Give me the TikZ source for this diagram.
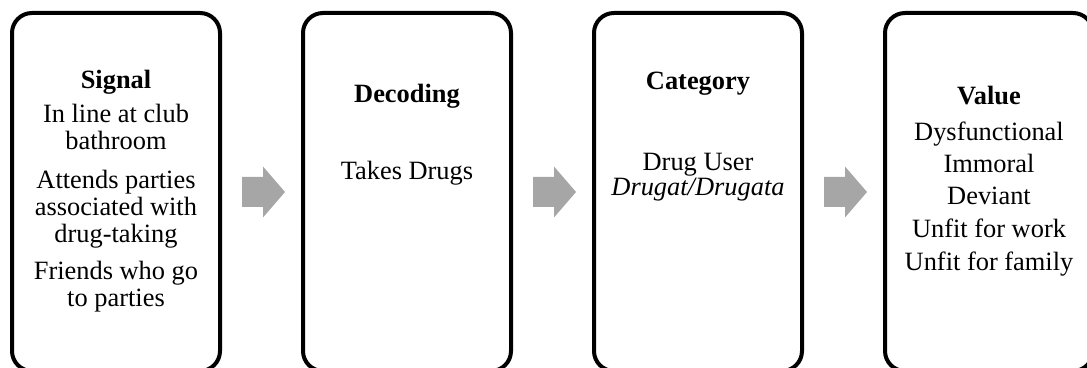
\documentclass[tikz,border=0pt]{standalone}
\usepackage{fontspec}
\setmainfont{Liberation Serif}
\usetikzlibrary{calc,positioning}
\tikzset{
	stage/.style={draw, line width=2pt, rounded corners=10pt, minimum width=104pt,
		minimum height=179pt, inner sep=0pt, outer sep=0pt},
	txt/.style={anchor=mid, inner sep=0pt, font=\fontsize{13.2pt}{15pt}\selectfont},
	garrow/.style={fill=black!35}
}

\begin{document}
\begin{tikzpicture}[x=0.5pt,y=-0.5pt]
		\useasboundingbox (0,0) rectangle (1087,368);
		% the four stages
		\node[stage] (sig) at (116,192) {};
		\node[stage,right=41.5pt of sig] (dec) {};
		\node[stage,right=41.5pt of dec] (cat) {};
		\node[stage,right=41.5pt of cat] (val) {};
		% texts, offsets from the top of each box
		\foreach \t/\d [count=\i] in {{\textbf{Signal}}/71, In line at club/105, bathroom/132,
			Attends parties/171, associated with/198, drug-taking/225, Friends who go/262, to parties/289}
		\node[txt] (sig-\i) at ($(sig.north)+(0,\d)$) {\t};
		\foreach \t/\d [count=\i] in {{\textbf{Decoding}}/85, Takes Drugs/162}
		\node[txt] (dec-\i) at ($(dec.north)+(0,\d)$) {\t};
		\foreach \t/\d [count=\i] in {{\textbf{Category}}/72, Drug User/153, {\textit{Drugat/Drugata}}/178}
		\node[txt] (cat-\i) at ($(cat.north)+(0,\d)$) {\t};
		\foreach \t/\d [count=\i] in {{\textbf{Value}}/87, Dysfunctional/123, Immoral/155, Deviant/187,
			Unfit for work/220, Unfit for family/253}
		\node[txt] (val-\i) at ($(val.north)+(0,\d)$) {\t};
		% grey arrows between the boxes
		\foreach \a/\b in {sig/dec,dec/cat,cat/val}{
			\coordinate (\a-\b) at ($(\a.east)!0.5!(\b.west)$);
			\fill[garrow] (\a-\b) ++(-19.5,-15) -- ++(21,0) -- ++(0,-10.5) -- ++(22,25.5)
			-- ++(-22,25.5) -- ++(0,-10.5) -- ++(-21,0) -- cycle;
		}
\end{tikzpicture}
\end{document}
